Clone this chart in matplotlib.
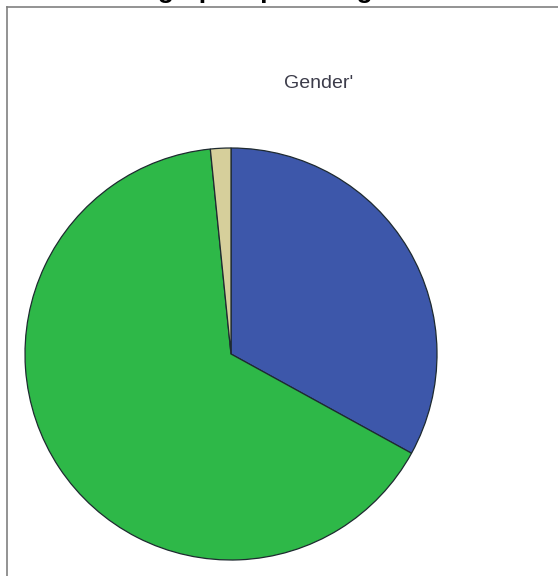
import matplotlib.pyplot as plt
from matplotlib.lines import Line2D

plt.rcParams["font.family"] = ["Liberation Sans", "DejaVu Sans"]

# ======================
# 数据
# ======================
labels = ["Male", "Female", "Other"]
shares = [33.0, 65.4, 1.6]
colors = ["#3d57aa", "#2eb848", "#d6cf9b"]

title = "Demographic profile: gender"
inner_title = "Gender'"

# ======================
# 建图
# ======================
W, H = 558, 576
fig = plt.figure(figsize=(W / 100, H / 100), dpi=100)

# 外框（只看得到上边和左边）
fig.add_artist(Line2D([7 / W, 1.0], [1 - 7 / H, 1 - 7 / H], color="#808080", lw=1.2))
fig.add_artist(Line2D([7 / W, 7 / W], [0.0, 1 - 7 / H], color="#808080", lw=1.2))

# 被裁掉的标题，只剩下降部
fig.text(264 / W, 1 + 2 / H, title, ha="center", va="baseline",
         fontsize=18.9, fontweight="bold", color="black")

fig.text(319 / W, 1 - 83 / H, inner_title, ha="center", va="center",
         fontsize=14, color="#3c3c4a")

# 饼图
cx, cy, r = 231, 354, 206
ax = fig.add_axes([(cx - r) / W, (H - cy - r) / H, 2 * r / W, 2 * r / H])
ax.pie(shares, colors=colors, startangle=90, counterclock=False,
       wedgeprops=dict(edgecolor="#1e2a30", linewidth=0.9))
ax.set_xlim(-1, 1)
ax.set_ylim(-1, 1)
ax.axis("off")

plt.savefig("out.png", dpi=100)
